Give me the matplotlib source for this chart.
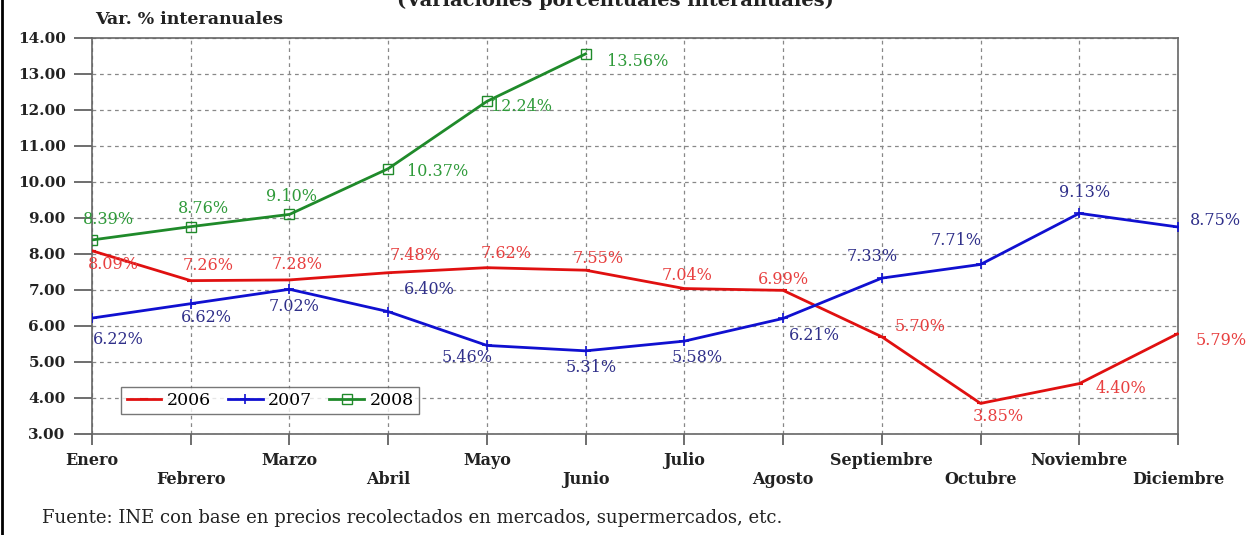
import matplotlib
matplotlib.use("Agg")
import matplotlib.pyplot as plt
from matplotlib.lines import Line2D

months = ["Enero", "Febrero", "Marzo", "Abril", "Mayo", "Junio", "Julio",
          "Agosto", "Septiembre", "Octubre", "Noviembre", "Diciembre"]
v2006 = [8.09, 7.26, 7.28, 7.48, 7.62, 7.55, 7.04, 6.99, 5.70, 3.85, 4.40, 5.79]
v2007 = [6.22, 6.62, 7.02, 6.40, 5.46, 5.31, 5.58, 6.21, 7.33, 7.71, 9.13, 8.75]
v2008 = [8.39, 8.76, 9.10, 10.37, 12.24, 13.56]
yticks = [3, 4, 5, 6, 7, 8, 9, 10, 11, 12, 13, 14]

# label offsets in pixels (dx, dy)
off2006 = [(21, -14), (17, 15), (8, 15), (27, 17), (19, 14), (13, 12), (3, 13),
           (0, 11), (38, 10), (18, -13), (42, -5), (43, -7)]
off2007 = [(26, -21), (16, -14), (5, -17), (41, 22), (-20, -12), (6, -17), (13, -16),
           (31, -17), (-10, 22), (-24, 24), (5, 21), (37, 6)]
off2008 = [(16, 20), (13, 18), (2, 18), (49, -3), (35, -5), (52, -8)]

SERIF = "DejaVu Serif"
fig = plt.figure(figsize=(12.5, 5.35), dpi=100)
ax = fig.add_axes([92/1250, 1-434/535, (1178-92)/1250, (434-38)/535])

x = list(range(12))
c06, c07, c08 = "#e01010", "#1010d0", "#1f8a2a"
t06, t07, t08 = "#e84040", "#30308a", "#2f9a3a"

ax.plot(x, v2006, color=c06, lw=2, marker="_", ms=6, mew=1.5, label="2006", zorder=4)
ax.plot(x, v2007, color=c07, lw=2, marker="+", ms=7, mew=1.2, label="2007", zorder=4)
ax.plot(x[:len(v2008)], v2008, color=c08, lw=2, marker="s", ms=7, mfc="none",
        mew=1.0, label="2008", zorder=5)

for vals, offs, col in [(v2006, off2006, t06), (v2007, off2007, t07), (v2008, off2008, t08)]:
    for i, (v, o) in enumerate(zip(vals, offs)):
        ax.annotate(f"{v:.2f}%", (i, v), xytext=o, textcoords="offset pixels",
                    ha="center", va="center", color=col, fontsize=11.5,
                    family=SERIF, zorder=6)

ax.set_xlim(0, 11)
ax.set_ylim(3, 14)
ax.set_yticks(yticks)
ax.set_yticklabels([f"{t:.2f}" for t in yticks], family=SERIF, fontweight="bold",
                   fontsize=11, color="#222222")
ax.set_xticks(x)
ax.set_xticklabels([])
for i, m in enumerate(months):
    ax.annotate(m, (i, 3), xytext=(0, -27 if i % 2 == 0 else -46),
                textcoords="offset pixels", ha="center", va="center",
                family=SERIF, fontweight="bold", fontsize=11.5, color="#222222",
                annotation_clip=False)
ax.tick_params(axis="y", direction="out", length=13, color="#555555", width=1.2, pad=6)
ax.tick_params(axis="x", direction="out", length=8, color="#555555", width=1.2)
ax.grid(True, color="#888888", ls=(0, (3, 3)), lw=0.9)
for s in ax.spines.values():
    s.set_color("#666666")
    s.set_linewidth(1.2)

leg = ax.legend(loc="lower left", bbox_to_anchor=(0.027, 0.05), ncol=3,
                prop={"family": SERIF, "size": 12.5}, frameon=True, fancybox=False,
                handlelength=2.0, handletextpad=0.3, columnspacing=1.0,
                borderpad=0.3, borderaxespad=0)
leg.get_frame().set_edgecolor("#555555")
leg.get_frame().set_linewidth(1.0)

fig.text(95/1250, 1-20/535, "Var. % interanuales", family=SERIF, fontweight="bold",
         fontsize=12.5, ha="left", va="center", color="#222222")
fig.text(615/1250, 1-1/535, "(Variaciones porcentuales interanuales)", family=SERIF,
         fontweight="bold", fontsize=14, ha="center", va="center", color="#222222")
fig.text(42/1250, 1-518/535,
         "Fuente: INE con base en precios recolectados en mercados, supermercados, etc.",
         family=SERIF, fontsize=13, ha="left", va="center", color="#222222")
fig.add_artist(Line2D([2/1250, 2/1250], [0, 1], color="black", lw=2,
                      transform=fig.transFigure))

fig.savefig("out.png", dpi=100)
